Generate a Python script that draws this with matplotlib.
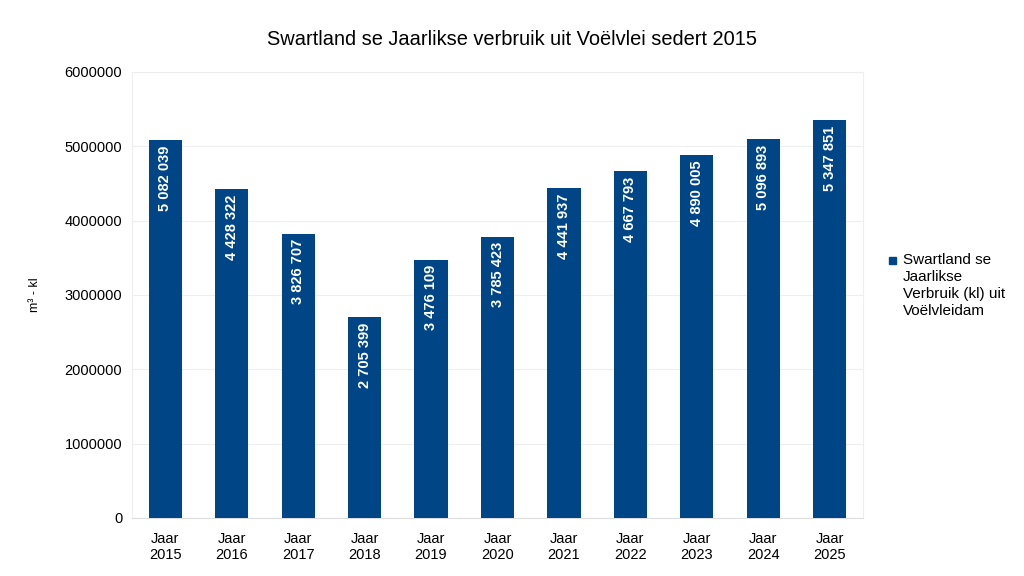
import matplotlib
matplotlib.use("Agg")
import matplotlib.pyplot as plt
from matplotlib.patches import Rectangle

plt.rcParams["font.family"] = ["Liberation Sans", "DejaVu Sans"]

# Data
years = ["2015", "2016", "2017", "2018", "2019", "2020",
         "2021", "2022", "2023", "2024", "2025"]
usage_kl = [5082039, 4428322, 3826707, 2705399, 3476109, 3785423,
            4441937, 4667793, 4890005, 5096893, 5347851]
y_ticks = [0, 1000000, 2000000, 3000000, 4000000, 5000000, 6000000]

bar_colour = "#004586"

fig = plt.figure(figsize=(10.24, 5.76), dpi=100)
ax = fig.add_axes([0.1289, 0.1007, 0.7139, 0.7743])

x = list(range(len(years)))
bars = ax.bar(x, usage_kl, width=0.5, color=bar_colour, zorder=3)

# value labels, rotated, just inside the top of each bar
for b, v in zip(bars, usage_kl):
    label = f"{v:,}".replace(",", " ")
    ax.annotate(label, (b.get_x() + b.get_width() / 2, v),
                xytext=(0, -4), textcoords="offset points",
                rotation=90, ha="center", va="top", color="white",
                fontsize=10.5, fontweight="bold", zorder=4)

ax.set_xlim(-0.5, len(years) - 0.5)
ax.set_ylim(0, 6000000)
ax.set_yticks(y_ticks)
ax.set_yticklabels([str(t) for t in y_ticks], fontsize=10.5)
ax.set_xticks(x)
ax.set_xticklabels([f"Jaar\n{y}" for y in years], fontsize=10.5)
ax.tick_params(axis="x", length=0, pad=10)
ax.tick_params(axis="y", length=0, pad=7)

ax.grid(axis="y", color="#eeeeee", linewidth=0.8, zorder=0)
for side in ["top", "right", "left"]:
    ax.spines[side].set_color("#eeeeee")
ax.spines["bottom"].set_color("#dddddd")

ax.set_ylabel("m³ - kl", fontsize=9, labelpad=17)

fig.suptitle("Swartland se Jaarlikse verbruik uit Voëlvlei sedert 2015",
             fontsize=14.4, y=0.948)

# legend drawn by hand to match the wrapped text layout
fig.patches.append(Rectangle((0.868, 0.5417), 0.0068, 0.0122,
                             transform=fig.transFigure, color=bar_colour))
fig.text(0.882, 0.560, "Swartland se\nJaarlikse\nVerbruik (kl) uit\nVoëlvleidam",
         fontsize=11, va="top", ha="left", linespacing=1.27)

fig.savefig("out.png", dpi=100)
